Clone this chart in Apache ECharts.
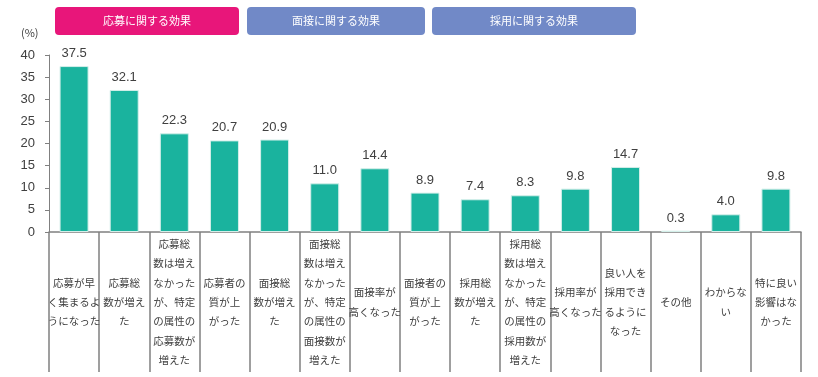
<!DOCTYPE html>
<html>
<head>
<meta charset="utf-8">
<script src="https://cdn.jsdelivr.net/npm/echarts@6/dist/echarts.min.js"></script>
<style>
  html, body { margin: 0; padding: 0; background: #fff; }
  #chart { width: 818px; height: 377px; }
</style>
</head>
<body>
<div id="chart"></div>
<script>
var categories = [
  '応募が早\nく集まるよ\nうになった',
  '応募総\n数が増え\nた',
  '応募総\n数は増え\nなかった\nが、特定\nの属性の\n応募数が\n増えた',
  '応募者の\n質が上\nがった',
  '面接総\n数が増え\nた',
  '面接総\n数は増え\nなかった\nが、特定\nの属性の\n面接数が\n増えた',
  '面接率が\n高くなった',
  '面接者の\n質が上\nがった',
  '採用総\n数が増え\nた',
  '採用総\n数は増え\nなかった\nが、特定\nの属性の\n採用数が\n増えた',
  '採用率が\n高くなった',
  '良い人を\n採用でき\nるように\nなった',
  'その他',
  'わからな\nい',
  '特に良い\n影響はな\nかった'
];
var values = [37.5, 32.1, 22.3, 20.7, 20.9, 11.0, 14.4, 8.9, 7.4, 8.3, 9.8, 14.7, 0.3, 4.0, 9.8];
var groupLabels = ['応募に関する効果', '面接に関する効果', '採用に関する効果'];

var font = '"Noto Sans CJK JP", sans-serif';
var myChart = echarts.init(document.getElementById('chart'));

function button(x, w, color, text) {
  return {
    type: 'group',
    left: x,
    top: 7,
    children: [
      { type: 'rect', shape: { x: 0, y: 0, width: w, height: 28, r: 4 }, style: { fill: color } },
      { type: 'text', x: w / 2, y: 14, style: { text: text, fill: '#fff', font: '11px ' + font, align: 'center', verticalAlign: 'middle' } }
    ]
  };
}

option = {
  animation: false,
  textStyle: { fontFamily: font },
  grid: { left: 49, right: 17, top: 55, bottom: 145, containLabel: false },
  graphic: [
    button(55, 184, '#E8167A', groupLabels[0]),
    button(247, 178, '#7189C7', groupLabels[1]),
    button(432, 204, '#7189C7', groupLabels[2]),
    { type: 'text', left: 21, top: 27, style: { text: '(%)', fill: '#404040', font: '11px ' + font } }
  ],
  xAxis: {
    type: 'category',
    data: categories,
    axisLine: { lineStyle: { color: '#808080', width: 1.5 } },
    axisTick: { show: true, interval: 0, length: 140, lineStyle: { color: '#808080', width: 1.5 } },
    axisLabel: {
      interval: 0,
      margin: 70,
      verticalAlign: 'middle',
      fontSize: 10.5,
      lineHeight: 19.3,
      color: '#404040',
      fontFamily: font
    }
  },
  yAxis: {
    type: 'value',
    min: 0,
    max: 40,
    interval: 5,
    axisLine: { show: true, lineStyle: { color: '#808080' } },
    axisTick: { show: true, length: 4, lineStyle: { color: '#808080' } },
    splitLine: { show: false },
    axisLabel: { fontSize: 13, color: '#404040', margin: 14, fontFamily: 'Liberation Sans, sans-serif' }
  },
  series: [
    {
      type: 'bar',
      data: values,
      barWidth: 29,
      itemStyle: { color: '#1AB39E', borderColor: '#D5EFEA', borderWidth: 1 },
      label: {
        show: true,
        position: 'top',
        distance: 6,
        fontSize: 13,
        color: '#404040',
        fontFamily: 'Liberation Sans, sans-serif',
        formatter: function (p) { return p.value.toFixed(1); }
      }
    }
  ]
};

myChart.setOption(option);
</script>
</body>
</html>
